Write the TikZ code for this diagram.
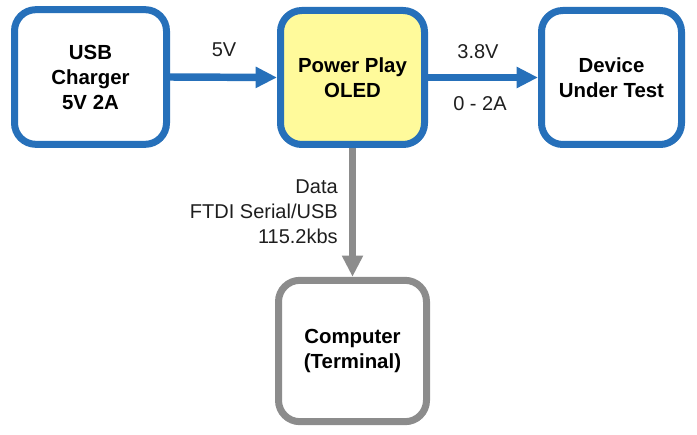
\documentclass[tikz,border=0pt]{standalone}
\usepackage{fontspec}
\setmainfont{Liberation Sans}
\usetikzlibrary{arrows.meta,shadows}
\definecolor{boxblue}{RGB}{38,112,186}
\definecolor{boxyellow}{RGB}{255,250,155}
\definecolor{boxgray}{RGB}{140,140,140}
\definecolor{labelcol}{RGB}{30,30,30}
\begin{document}
\begin{tikzpicture}[x=0.75pt,y=-0.75pt,
  blockbox/.style={draw=boxblue, line width=5.25pt, rounded corners=16pt, fill=white,
    align=center, font=\fontsize{15.3}{18.75}\selectfont\bfseries, text=black,
    drop shadow={shadow xshift=1.5pt, shadow yshift=-2pt, opacity=0.25, fill=black}},
  grayblock/.style={blockbox, draw=boxgray},
  lbl/.style={font=\fontsize{15}{18.75}\selectfont, text=labelcol, inner sep=0pt},
  bluearrow/.style={draw=boxblue, line width=5.6pt, -{Triangle[length=16pt,width=15pt]}},
  grayarrow/.style={draw=boxgray, line width=5.6pt, -{Triangle[length=16pt,width=15pt]}}]
\useasboundingbox (0,0) rectangle (697,435);
\node[blockbox, minimum width=114pt, minimum height=101pt] (usb) at (90.5,77) {USB\\Charger\\5V 2A};
\node[blockbox, fill=boxyellow, minimum width=108pt, minimum height=100.5pt] (ppo) at (352.5,77.5) {Power Play\\OLED};
\node[blockbox, minimum width=105pt, minimum height=100.5pt] (dut) at (611.5,77.5) {Device\\Under Test};
\node[grayblock, minimum width=111pt, minimum height=106pt] (comp) at (352.5,351) {Computer\\(Terminal)};
\draw[bluearrow] (usb.east) -- (ppo.west);
\draw[bluearrow] (ppo.east) -- (dut.west);
\draw[grayarrow] (ppo.south) -- (comp.north);
\node[lbl] (l5v) at (224,50) {5V};
\node[lbl] (l38) at (478,52) {3.8V};
\node[lbl] (l2a) at (480,104) {0 - 2A};
\node[lbl, align=right, anchor=east] (ldata) at (338,212) {Data\\FTDI Serial/USB\\115.2kbs};
\end{tikzpicture}
\end{document}
